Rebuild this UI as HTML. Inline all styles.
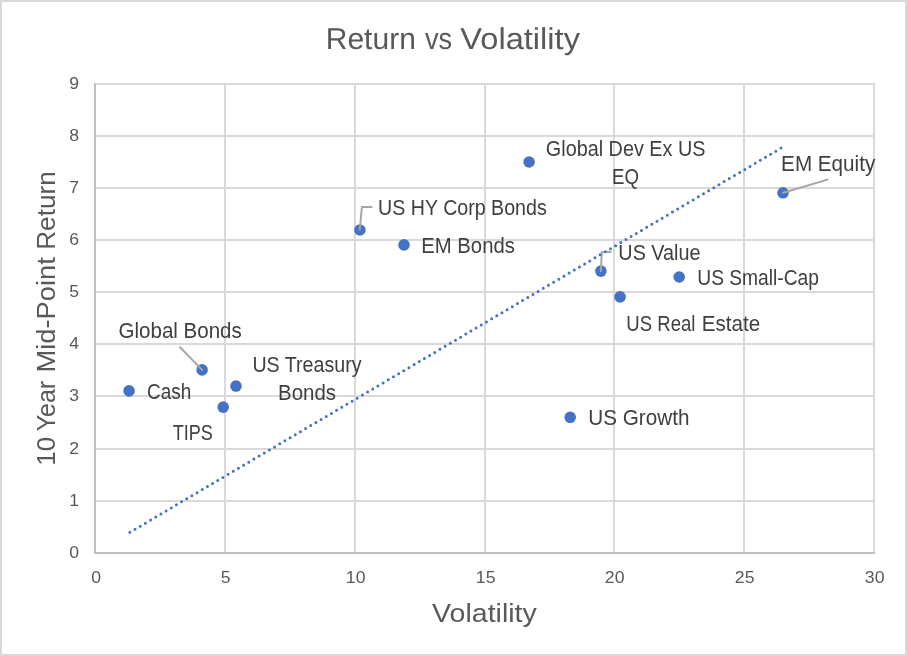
<!DOCTYPE html><html><head><meta charset="utf-8"><style>html,body{margin:0;padding:0;background:#fff;width:907px;height:656px;overflow:hidden}svg{display:block;will-change:transform}text{font-family:"Liberation Sans",sans-serif}</style></head><body>
<svg width="907" height="656" viewBox="0 0 907 656">
<rect x="1" y="1" width="905" height="654" fill="#fff" stroke="#d9d9d9" stroke-width="2"/>
<line x1="225" y1="83" x2="225" y2="552" stroke="#d9d9d9" stroke-width="2"/>
<line x1="355" y1="83" x2="355" y2="552" stroke="#d9d9d9" stroke-width="2"/>
<line x1="485" y1="83" x2="485" y2="552" stroke="#d9d9d9" stroke-width="2"/>
<line x1="614" y1="83" x2="614" y2="552" stroke="#d9d9d9" stroke-width="2"/>
<line x1="744" y1="83" x2="744" y2="552" stroke="#d9d9d9" stroke-width="2"/>
<line x1="874" y1="83" x2="874" y2="552" stroke="#d9d9d9" stroke-width="2"/>
<line x1="96" y1="501" x2="875" y2="501" stroke="#d9d9d9" stroke-width="2"/>
<line x1="96" y1="449" x2="875" y2="449" stroke="#d9d9d9" stroke-width="2"/>
<line x1="96" y1="396" x2="875" y2="396" stroke="#d9d9d9" stroke-width="2"/>
<line x1="96" y1="344" x2="875" y2="344" stroke="#d9d9d9" stroke-width="2"/>
<line x1="96" y1="292" x2="875" y2="292" stroke="#d9d9d9" stroke-width="2"/>
<line x1="96" y1="240" x2="875" y2="240" stroke="#d9d9d9" stroke-width="2"/>
<line x1="96" y1="188" x2="875" y2="188" stroke="#d9d9d9" stroke-width="2"/>
<line x1="96" y1="136" x2="875" y2="136" stroke="#d9d9d9" stroke-width="2"/>
<line x1="96" y1="84" x2="875" y2="84" stroke="#d9d9d9" stroke-width="2"/>
<line x1="95" y1="83" x2="95" y2="554" stroke="#bfbfbf" stroke-width="2"/>
<line x1="94" y1="553" x2="875" y2="553" stroke="#bfbfbf" stroke-width="2"/>
<text x="79.0" y="558.0" font-size="16.8" fill="#595959" text-anchor="end" textLength="9.8" lengthAdjust="spacingAndGlyphs">0</text>
<text x="79.0" y="506.0" font-size="16.8" fill="#595959" text-anchor="end" textLength="9.8" lengthAdjust="spacingAndGlyphs">1</text>
<text x="79.0" y="454.0" font-size="16.8" fill="#595959" text-anchor="end" textLength="9.8" lengthAdjust="spacingAndGlyphs">2</text>
<text x="79.0" y="401.0" font-size="16.8" fill="#595959" text-anchor="end" textLength="9.8" lengthAdjust="spacingAndGlyphs">3</text>
<text x="79.0" y="349.0" font-size="16.8" fill="#595959" text-anchor="end" textLength="9.8" lengthAdjust="spacingAndGlyphs">4</text>
<text x="79.0" y="297.0" font-size="16.8" fill="#595959" text-anchor="end" textLength="9.8" lengthAdjust="spacingAndGlyphs">5</text>
<text x="79.0" y="245.0" font-size="16.8" fill="#595959" text-anchor="end" textLength="9.8" lengthAdjust="spacingAndGlyphs">6</text>
<text x="79.0" y="193.0" font-size="16.8" fill="#595959" text-anchor="end" textLength="9.8" lengthAdjust="spacingAndGlyphs">7</text>
<text x="79.0" y="141.0" font-size="16.8" fill="#595959" text-anchor="end" textLength="9.8" lengthAdjust="spacingAndGlyphs">8</text>
<text x="79.0" y="89.0" font-size="16.8" fill="#595959" text-anchor="end" textLength="9.8" lengthAdjust="spacingAndGlyphs">9</text>
<text x="96.2" y="583" font-size="16.8" fill="#595959" text-anchor="middle" textLength="9.8" lengthAdjust="spacingAndGlyphs">0</text>
<text x="225.7" y="583" font-size="16.8" fill="#595959" text-anchor="middle" textLength="9.8" lengthAdjust="spacingAndGlyphs">5</text>
<text x="355.7" y="583" font-size="16.8" fill="#595959" text-anchor="middle" textLength="19.7" lengthAdjust="spacingAndGlyphs">10</text>
<text x="485.7" y="583" font-size="16.8" fill="#595959" text-anchor="middle" textLength="19.7" lengthAdjust="spacingAndGlyphs">15</text>
<text x="614.7" y="583" font-size="16.8" fill="#595959" text-anchor="middle" textLength="19.7" lengthAdjust="spacingAndGlyphs">20</text>
<text x="744.7" y="583" font-size="16.8" fill="#595959" text-anchor="middle" textLength="19.7" lengthAdjust="spacingAndGlyphs">25</text>
<text x="874.7" y="583" font-size="16.8" fill="#595959" text-anchor="middle" textLength="19.7" lengthAdjust="spacingAndGlyphs">30</text>
<text x="325.75" y="49" font-size="30.2" text-rendering="geometricPrecision" fill="#595959" textLength="90.09" lengthAdjust="spacingAndGlyphs">Return</text>
<text x="424.90" y="49" font-size="30.2" text-rendering="geometricPrecision" fill="#595959" textLength="27.17" lengthAdjust="spacingAndGlyphs">vs</text>
<text x="460.28" y="49" font-size="30.2" text-rendering="geometricPrecision" fill="#595959" textLength="119.73" lengthAdjust="spacingAndGlyphs">Volatility</text>
<text x="432.07" y="622" font-size="25.5" fill="#595959" textLength="104.73" lengthAdjust="spacingAndGlyphs">Volatility</text>
<text transform="translate(55.05 465.66) rotate(-90)" x="0" y="0" font-size="25.8" fill="#595959" textLength="28.82" lengthAdjust="spacingAndGlyphs">10</text>
<text transform="translate(55.05 431.24) rotate(-90)" x="0" y="0" font-size="25.8" fill="#595959" textLength="50.39" lengthAdjust="spacingAndGlyphs">Year</text>
<text transform="translate(55.05 372.44) rotate(-90)" x="0" y="0" font-size="25.8" fill="#595959" textLength="115.19" lengthAdjust="spacingAndGlyphs">Mid-Point</text>
<text transform="translate(55.05 249.80) rotate(-90)" x="0" y="0" font-size="25.8" fill="#595959" textLength="78.66" lengthAdjust="spacingAndGlyphs">Return</text>
<circle cx="129.05" cy="390.9" r="5.8" fill="#4472c4"/>
<circle cx="202.1" cy="369.9" r="5.8" fill="#4472c4"/>
<circle cx="223.2" cy="407.1" r="5.8" fill="#4472c4"/>
<circle cx="236.0" cy="386.05" r="5.8" fill="#4472c4"/>
<circle cx="359.9" cy="230" r="5.8" fill="#4472c4"/>
<circle cx="404" cy="244.9" r="5.8" fill="#4472c4"/>
<circle cx="529.1" cy="162.0" r="5.8" fill="#4472c4"/>
<circle cx="570.2" cy="417.3" r="5.8" fill="#4472c4"/>
<circle cx="600.9" cy="271.1" r="5.8" fill="#4472c4"/>
<circle cx="620.1" cy="296.9" r="5.8" fill="#4472c4"/>
<circle cx="679.2" cy="277.0" r="5.8" fill="#4472c4"/>
<circle cx="783.0" cy="192.8" r="5.8" fill="#4472c4"/>
<g stroke="#a6a6a6" stroke-width="2" fill="none" stroke-linejoin="round" stroke-linecap="round">
<polyline points="180,347.3 202.1,369.9"/>
<polyline points="359.8,229.5 361.9,207 371.6,207"/>
<polyline points="600.9,271.1 601.8,251.9 610.7,251.9"/>
<polyline points="783,192.8 827.6,179.6"/>
</g>
<line x1="129.9" y1="532.3" x2="781.8" y2="147.6" stroke="#4472c4" stroke-width="3" stroke-linecap="round" stroke-dasharray="0 6"/>
<text x="118.60" y="337.80" font-size="21.6" fill="#404040" textLength="123.15" lengthAdjust="spacingAndGlyphs">Global Bonds</text>
<text x="147.02" y="398.80" font-size="21.6" fill="#404040" textLength="44.22" lengthAdjust="spacingAndGlyphs">Cash</text>
<text x="172.63" y="439.80" font-size="21.6" fill="#404040" textLength="40.25" lengthAdjust="spacingAndGlyphs">TIPS</text>
<text x="252.38" y="371.80" font-size="21.6" fill="#404040" textLength="109.23" lengthAdjust="spacingAndGlyphs">US Treasury</text>
<text x="278.02" y="399.80" font-size="21.6" fill="#404040" textLength="58.08" lengthAdjust="spacingAndGlyphs">Bonds</text>
<text x="378.12" y="214.80" font-size="21.6" fill="#404040" textLength="168.61" lengthAdjust="spacingAndGlyphs">US HY Corp Bonds</text>
<text x="421.28" y="252.80" font-size="21.6" fill="#404040" textLength="93.60" lengthAdjust="spacingAndGlyphs">EM Bonds</text>
<text x="545.86" y="155.80" font-size="21.6" fill="#404040" textLength="159.57" lengthAdjust="spacingAndGlyphs">Global Dev Ex US</text>
<text x="612.12" y="183.80" font-size="21.6" fill="#404040" textLength="26.98" lengthAdjust="spacingAndGlyphs">EQ</text>
<text x="618.36" y="259.80" font-size="21.6" fill="#404040" textLength="82.19" lengthAdjust="spacingAndGlyphs">US Value</text>
<text x="697.29" y="284.80" font-size="21.6" fill="#404040" textLength="121.64" lengthAdjust="spacingAndGlyphs">US Small-Cap</text>
<text x="626.34" y="330.80" font-size="21.6" fill="#404040" textLength="69.12" lengthAdjust="spacingAndGlyphs">US Real</text>
<text x="701.81" y="330.80" font-size="21.6" fill="#404040" textLength="58.42" lengthAdjust="spacingAndGlyphs">Estate</text>
<text x="588.20" y="424.80" font-size="21.6" fill="#404040" textLength="101.21" lengthAdjust="spacingAndGlyphs">US Growth</text>
<text x="781.12" y="170.80" font-size="21.6" fill="#404040" textLength="94.14" lengthAdjust="spacingAndGlyphs">EM Equity</text>
</svg></body></html>
